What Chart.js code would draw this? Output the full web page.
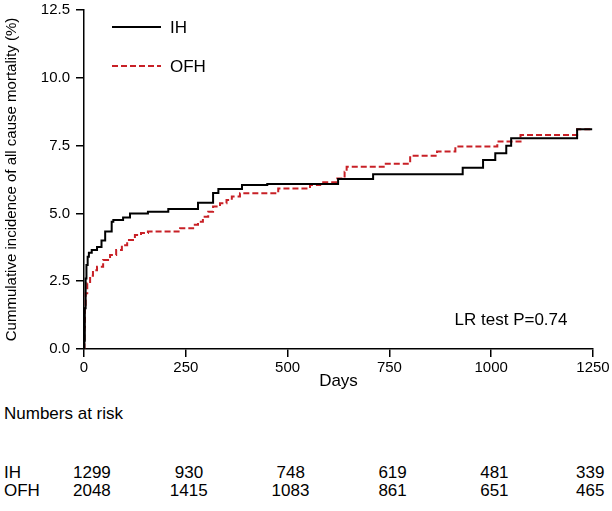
<!DOCTYPE html>
<html>
<head>
<meta charset="utf-8">
<script src="https://cdn.jsdelivr.net/npm/chart.js@4.4.1/dist/chart.umd.min.js"></script>
<style>
  html, body { margin:0; padding:0; background:#fff; }
  #wrap { position:relative; width:612px; height:511px; overflow:hidden; font-family:"Liberation Sans", Arial, sans-serif; color:#000; }
  #c { position:absolute; left:0; top:-5px; }
  .t { position:absolute; white-space:nowrap; font-size:17px; line-height:17px; }
</style>
</head>
<body>
<div id="wrap">
  <canvas id="c" width="612" height="400"></canvas>
</div>
<script>
// ---- data ----
const ihDays  = [0, 1, 2, 4, 6, 9, 12, 19, 32, 43, 52, 68, 72, 96, 113, 157, 207, 280, 317, 330, 388, 450, 624, 710, 930, 980, 1010, 1037, 1049, 1211, 1248];
const ihPct   = [0, 0.3, 1.5, 2.6, 3.1, 3.4, 3.55, 3.65, 3.76, 4.0, 4.33, 4.69, 4.76, 4.85, 5.0, 5.06, 5.16, 5.39, 5.75, 5.9, 6.05, 6.08, 6.27, 6.44, 6.68, 6.97, 7.22, 7.49, 7.77, 8.1, 8.1];
const ofhDays = [0, 1, 2, 4, 8, 15, 22, 32, 47, 64, 79, 93, 106, 125, 140, 157, 236, 268, 280, 292, 305, 317, 334, 350, 363, 383, 477, 555, 580, 622, 640, 645, 736, 801, 867, 912, 1015, 1072, 1211, 1248];
const ofhPct  = [0, 0.8, 1.5, 2.06, 2.42, 2.7, 2.9, 3.03, 3.28, 3.47, 3.65, 3.83, 4.02, 4.2, 4.28, 4.33, 4.45, 4.58, 4.69, 4.88, 5.06, 5.25, 5.37, 5.49, 5.62, 5.74, 5.92, 6.05, 6.15, 6.29, 6.54, 6.72, 6.83, 7.13, 7.28, 7.47, 7.65, 7.89, 8.1, 8.1];
const seriesNames = ['IH', 'OFH'];
const xTicks = [0, 250, 500, 750, 1000, 1250];
const yTicks = [0, 2.5, 5, 7.5, 10, 12.5];
const riskDays = [0, 250, 500, 750, 1000, 1250];
const riskIH  = [1299, 930, 748, 619, 481, 339];
const riskOFH = [2048, 1415, 1083, 861, 651, 465];
const annotationText = 'LR test P=0.74';

const RED = 'rgb(200,32,38)';
const FONT = '"Liberation Sans", Arial, sans-serif';
const SHIFT = -5; // canvas offset inside the page
const pts = (xs, ys) => xs.map((x, i) => ({x, y: ys[i]}));

const legendPlugin = {
  id: 'legendLines',
  afterDraw(chart) {
    const ctx = chart.ctx;
    const items = [
      {label: seriesNames[0], color: '#000', dash: [], y: 27 - SHIFT},
      {label: seriesNames[1], color: RED, dash: [6, 3], y: 66 - SHIFT}
    ];
    ctx.save();
    items.forEach(it => {
      ctx.strokeStyle = it.color;
      ctx.lineWidth = 2;
      ctx.setLineDash(it.dash);
      ctx.beginPath();
      ctx.moveTo(112, it.y);
      ctx.lineTo(161, it.y);
      ctx.stroke();
      ctx.setLineDash([]);
      ctx.fillStyle = '#000';
      ctx.font = '17px ' + FONT;
      ctx.textBaseline = 'middle';
      ctx.fillText(it.label, 170, it.y + 1);
    });
    ctx.restore();
  }
};

const chart = new Chart(document.getElementById('c'), {
  type: 'line',
  data: {
    datasets: [
      { label: seriesNames[0], data: pts(ihDays, ihPct), borderColor: '#000', borderWidth: 2, stepped: 'before', pointRadius: 0, fill: false },
      { label: seriesNames[1], data: pts(ofhDays, ofhPct), borderColor: RED, borderWidth: 2, borderDash: [6, 3], stepped: 'before', pointRadius: 0, fill: false }
    ]
  },
  options: {
    responsive: false,
    animation: false,
    layout: { padding: { left: 0, top: 1, right: 19, bottom: 0 } },
    plugins: { legend: { display: false }, tooltip: { enabled: false } },
    scales: {
      x: {
        type: 'linear', min: 0, max: 1250,
        afterBuildTicks: s => { s.ticks = xTicks.map(v => ({value: v})); },
        afterFit: s => { s.height = 46; },
        ticks: { color: '#000', font: { size: 15, family: FONT }, padding: 2, maxRotation: 0, callback: v => String(v) },
        grid: { display: true, drawOnChartArea: false, drawTicks: true, tickLength: 8, color: '#000', lineWidth: 1.5 },
        border: { display: true, color: '#000', width: 1.5 },
        title: { display: true, text: 'Days', color: '#000', font: { size: 17, family: FONT }, padding: { top: 0, bottom: 3 } }
      },
      y: {
        type: 'linear', min: 0, max: 12.5,
        afterBuildTicks: s => { s.ticks = yTicks.map(v => ({value: v})); },
        afterFit: s => { s.width = 84; },
        ticks: { color: '#000', font: { size: 15, family: FONT }, padding: 6, callback: v => Number(v).toFixed(1) },
        grid: { display: true, drawOnChartArea: false, drawTicks: true, tickLength: 8, color: '#000', lineWidth: 1.5 },
        border: { display: true, color: '#000', width: 1.5 },
        title: { display: true, text: 'Cummulative incidence of all cause mortality (%)', color: '#000', font: { size: 15, family: FONT }, padding: { top: 3, bottom: 4 } }
      }
    }
  },
  plugins: [legendPlugin]
});

// ---- HTML text: annotation and risk table ----
const wrap = document.getElementById('wrap');
function addText(txt, x, y, align) {
  const d = document.createElement('div');
  d.className = 't';
  d.textContent = txt;
  wrap.appendChild(d);
  const w = d.offsetWidth;
  const left = align === 'center' ? x - w / 2 : (align === 'right' ? x - w : x);
  d.style.left = left + 'px';
  d.style.top = (y - 8.5) + 'px';
}
const xs = chart.scales.x, ys = chart.scales.y;
addText(annotationText, xs.getPixelForValue(910), ys.getPixelForValue(1.1) + SHIFT, 'left');
addText('Numbers at risk', 4, 413, 'left');
addText(seriesNames[0], 4, 472, 'left');
addText(seriesNames[1], 4, 490, 'left');
riskDays.forEach((d, i) => {
  const off = i === 0 ? 8 : (i === riskDays.length - 1 ? -3 : 3);
  const x = xs.getPixelForValue(d) + off;
  addText(String(riskIH[i]), x, 472, 'center');
  addText(String(riskOFH[i]), x, 490, 'center');
});
</script>
</body>
</html>
